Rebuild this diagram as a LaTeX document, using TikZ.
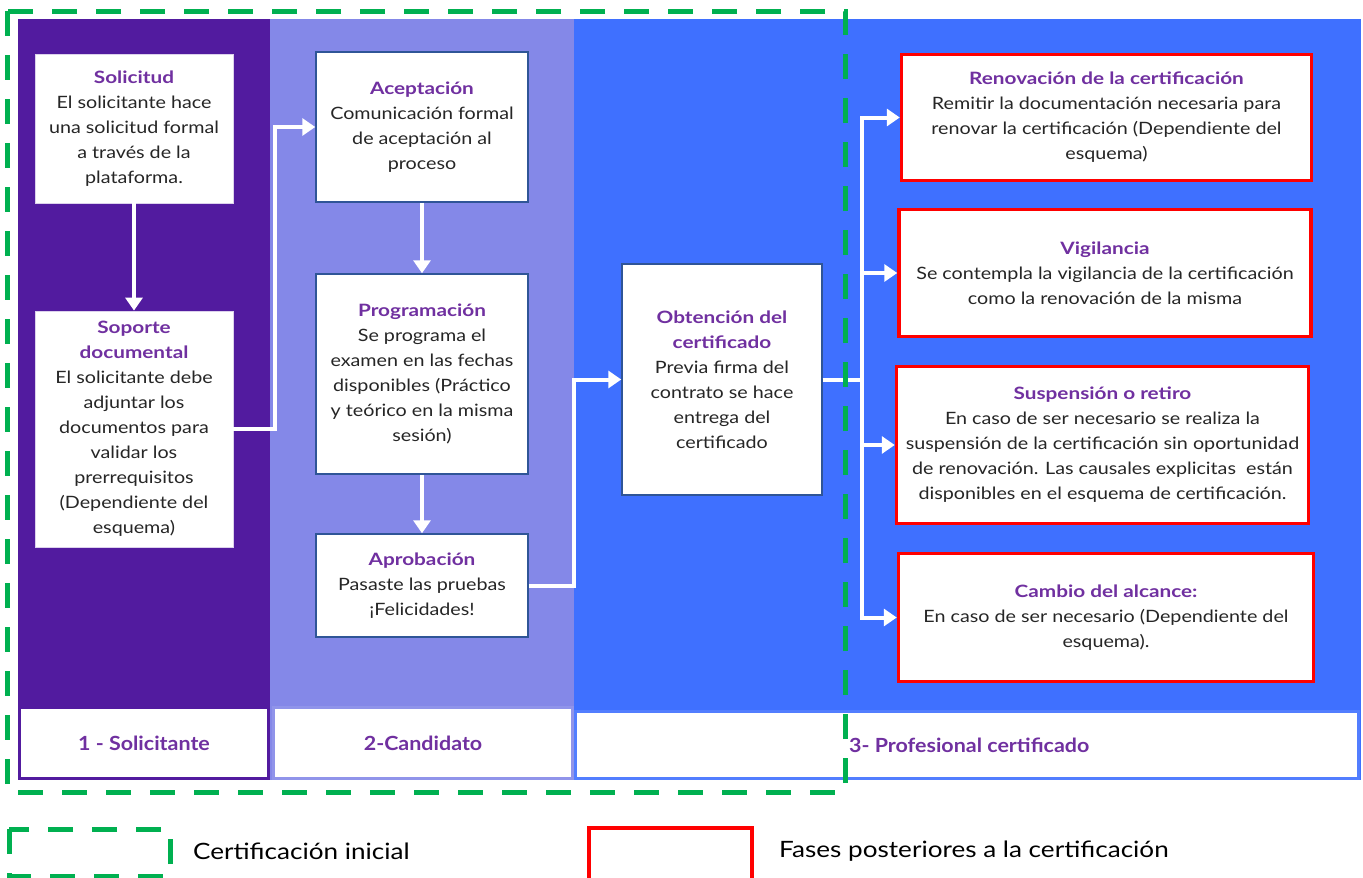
\documentclass[tikz,border=0pt]{standalone}
\usepackage{fontspec}
\setmainfont{Lato}[FakeStretch=1.16]
\newfontfamily\ttlfont{Lato}[FakeStretch=1.22]
\newfontfamily\footfont{Lato}[FakeStretch=1.1]
\usetikzlibrary{arrows.meta}
\definecolor{colA}{HTML}{521B9F}
\definecolor{colB}{HTML}{8488E8}
\definecolor{colC}{HTML}{3F70FF}
\definecolor{ttlc}{HTML}{7030A0}
\definecolor{boxb}{HTML}{2F5597}
\definecolor{grn}{HTML}{00B050}
\definecolor{txt}{HTML}{262626}
\newcommand\mytitle[1]{{\ttlfont\bfseries\color{ttlc}#1}}
\begin{document}
\begin{tikzpicture}[x=1pt,y=-1pt,
  wbox/.style={draw=white!80!colA, line width=0.8pt, fill=white, align=center, inner sep=0pt, text=txt, font=\fontsize{17}{25}\selectfont},
  bbox/.style={wbox, draw=boxb, line width=1.5pt},
  rbox/.style={wbox, draw=red, line width=3.5pt},
  foot/.style={fill=white, line width=3pt, inner sep=0pt, font=\footfont\fontsize{19.5}{25}\selectfont\bfseries, text=ttlc},
  warrow/.style={draw=white, line width=4pt, -{Triangle[width=17pt,length=13pt]}},
  gdash/.style={draw=grn, line width=5pt, dash pattern=on 25pt off 19pt},
  legtext/.style={font=\fontsize{22.5}{28}\selectfont, text=black, anchor=west, inner sep=0pt}
]
\clip (0,0) rectangle (1363,878);
\fill[white] (0,0) rectangle (1363,878);
% column backgrounds
\fill[colA] (18,19) rectangle (270,780);
\fill[colB] (270,19) rectangle (574,780);
\fill[colC] (574,19) rectangle (1361,780);
% footers
\node[foot, draw=colA, minimum width=249pt, minimum height=71pt] (f1) at (144,743) {1 - Solicitante};
\node[foot, draw=colB!90!white, minimum width=299pt, minimum height=71pt] (f2) at (423,743) {2-Candidato};
\node[foot, draw=colC!90!white, minimum width=783pt, minimum height=67pt] (f3) at (967,745) {};
% boxes column 1
\node[wbox, minimum width=198pt, minimum height=149pt] (sol) at (134,128.5)
  {\mytitle{Solicitud}\\El solicitante hace\\una solicitud formal\\a través de la\\plataforma.};
\node[wbox, minimum width=198pt, minimum height=236pt] (sop) at (134,429)
  {\mytitle{Soporte}\\\mytitle{documental}\\El solicitante debe\\adjuntar los\\documentos para\\validar los\\prerrequisitos\\(Dependiente del\\esquema)};
% column 2
\node[bbox, minimum width=212pt, minimum height=150pt] (acep) at (422,127)
  {\mytitle{Aceptación}\\Comunicación formal\\de aceptación al\\proceso};
\node[bbox, minimum width=212pt, minimum height=200pt] (prog) at (422,374)
  {\mytitle{Programación}\\Se programa el\\examen en las fechas\\disponibles (Práctico\\y teórico en la misma\\sesión)};
\node[bbox, minimum width=212pt, minimum height=103pt] (aprob) at (422,585.5)
  {\mytitle{Aprobación}\\Pasaste las pruebas\\¡Felicidades!};
% column 3
\node[bbox, minimum width=200pt, minimum height=231pt] (obt) at (722,379.5)
  {\mytitle{Obtención del}\\\mytitle{certificado}\\Previa firma del\\contrato se hace\\entrega del\\certificado};
\node[rbox, minimum width=410pt, minimum height=126pt] (renov) at (1106.5,117.5)
  {\mytitle{Renovación de la certificación}\\Remitir la documentación necesaria para\\renovar la certificación (Dependiente del\\esquema)};
\node[rbox, minimum width=412pt, minimum height=127pt] (vig) at (1105,273)
  {\mytitle{Vigilancia}\\Se contempla la vigilancia de la certificación\\como la renovación de la misma};
\node[rbox, minimum width=412pt, minimum height=157pt] (susp) at (1102.5,445)
  {\mytitle{Suspensión o retiro}\\En caso de ser necesario se realiza la\\suspensión de la certificación sin oportunidad\\de renovación. Las causales explicitas\ \ están\\disponibles en el esquema de certificación.};
\node[rbox, minimum width=415pt, minimum height=128pt] (camb) at (1106,617.5)
  {\mytitle{Cambio del alcance:}\\En caso de ser necesario (Dependiente del\\esquema).};
% arrows
\draw[warrow] (sol) -- (sop);
\draw[warrow] (sop.east) -- ++(42,0) |- (acep.west);
\draw[warrow] (acep) -- (prog);
\draw[warrow] (prog) -- (aprob);
\draw[warrow] (aprob.east) -- ++(45,0) |- (obt.west);
\draw[warrow] (obt.east) -- ++(39,0) |- (renov.west);
\draw[warrow] (obt.east) -- ++(39,0) |- (vig.west);
\draw[warrow] (obt.east) -- ++(39,0) |- (susp.west);
\draw[warrow] (obt.east) -- ++(39,0) |- (camb.west);
% initial certification frame
\draw[gdash] (7,11) rectangle (845,792);
\node[anchor=west, inner sep=0pt, font=\footfont\fontsize{19.5}{25}\selectfont\bfseries, text=ttlc] (f3t) at (849,745) {3- Profesional certificado};
% legend
\draw[gdash] (9,829) rectangle (170,876);
\node[legtext] (leg1) at (193,851) {Certificación inicial};
\draw[red, line width=3.5pt] (589,828) rectangle (752,900);
\node[legtext] (leg2) at (779,851) {Fases posteriores a la certificación};
\end{tikzpicture}
\end{document}
